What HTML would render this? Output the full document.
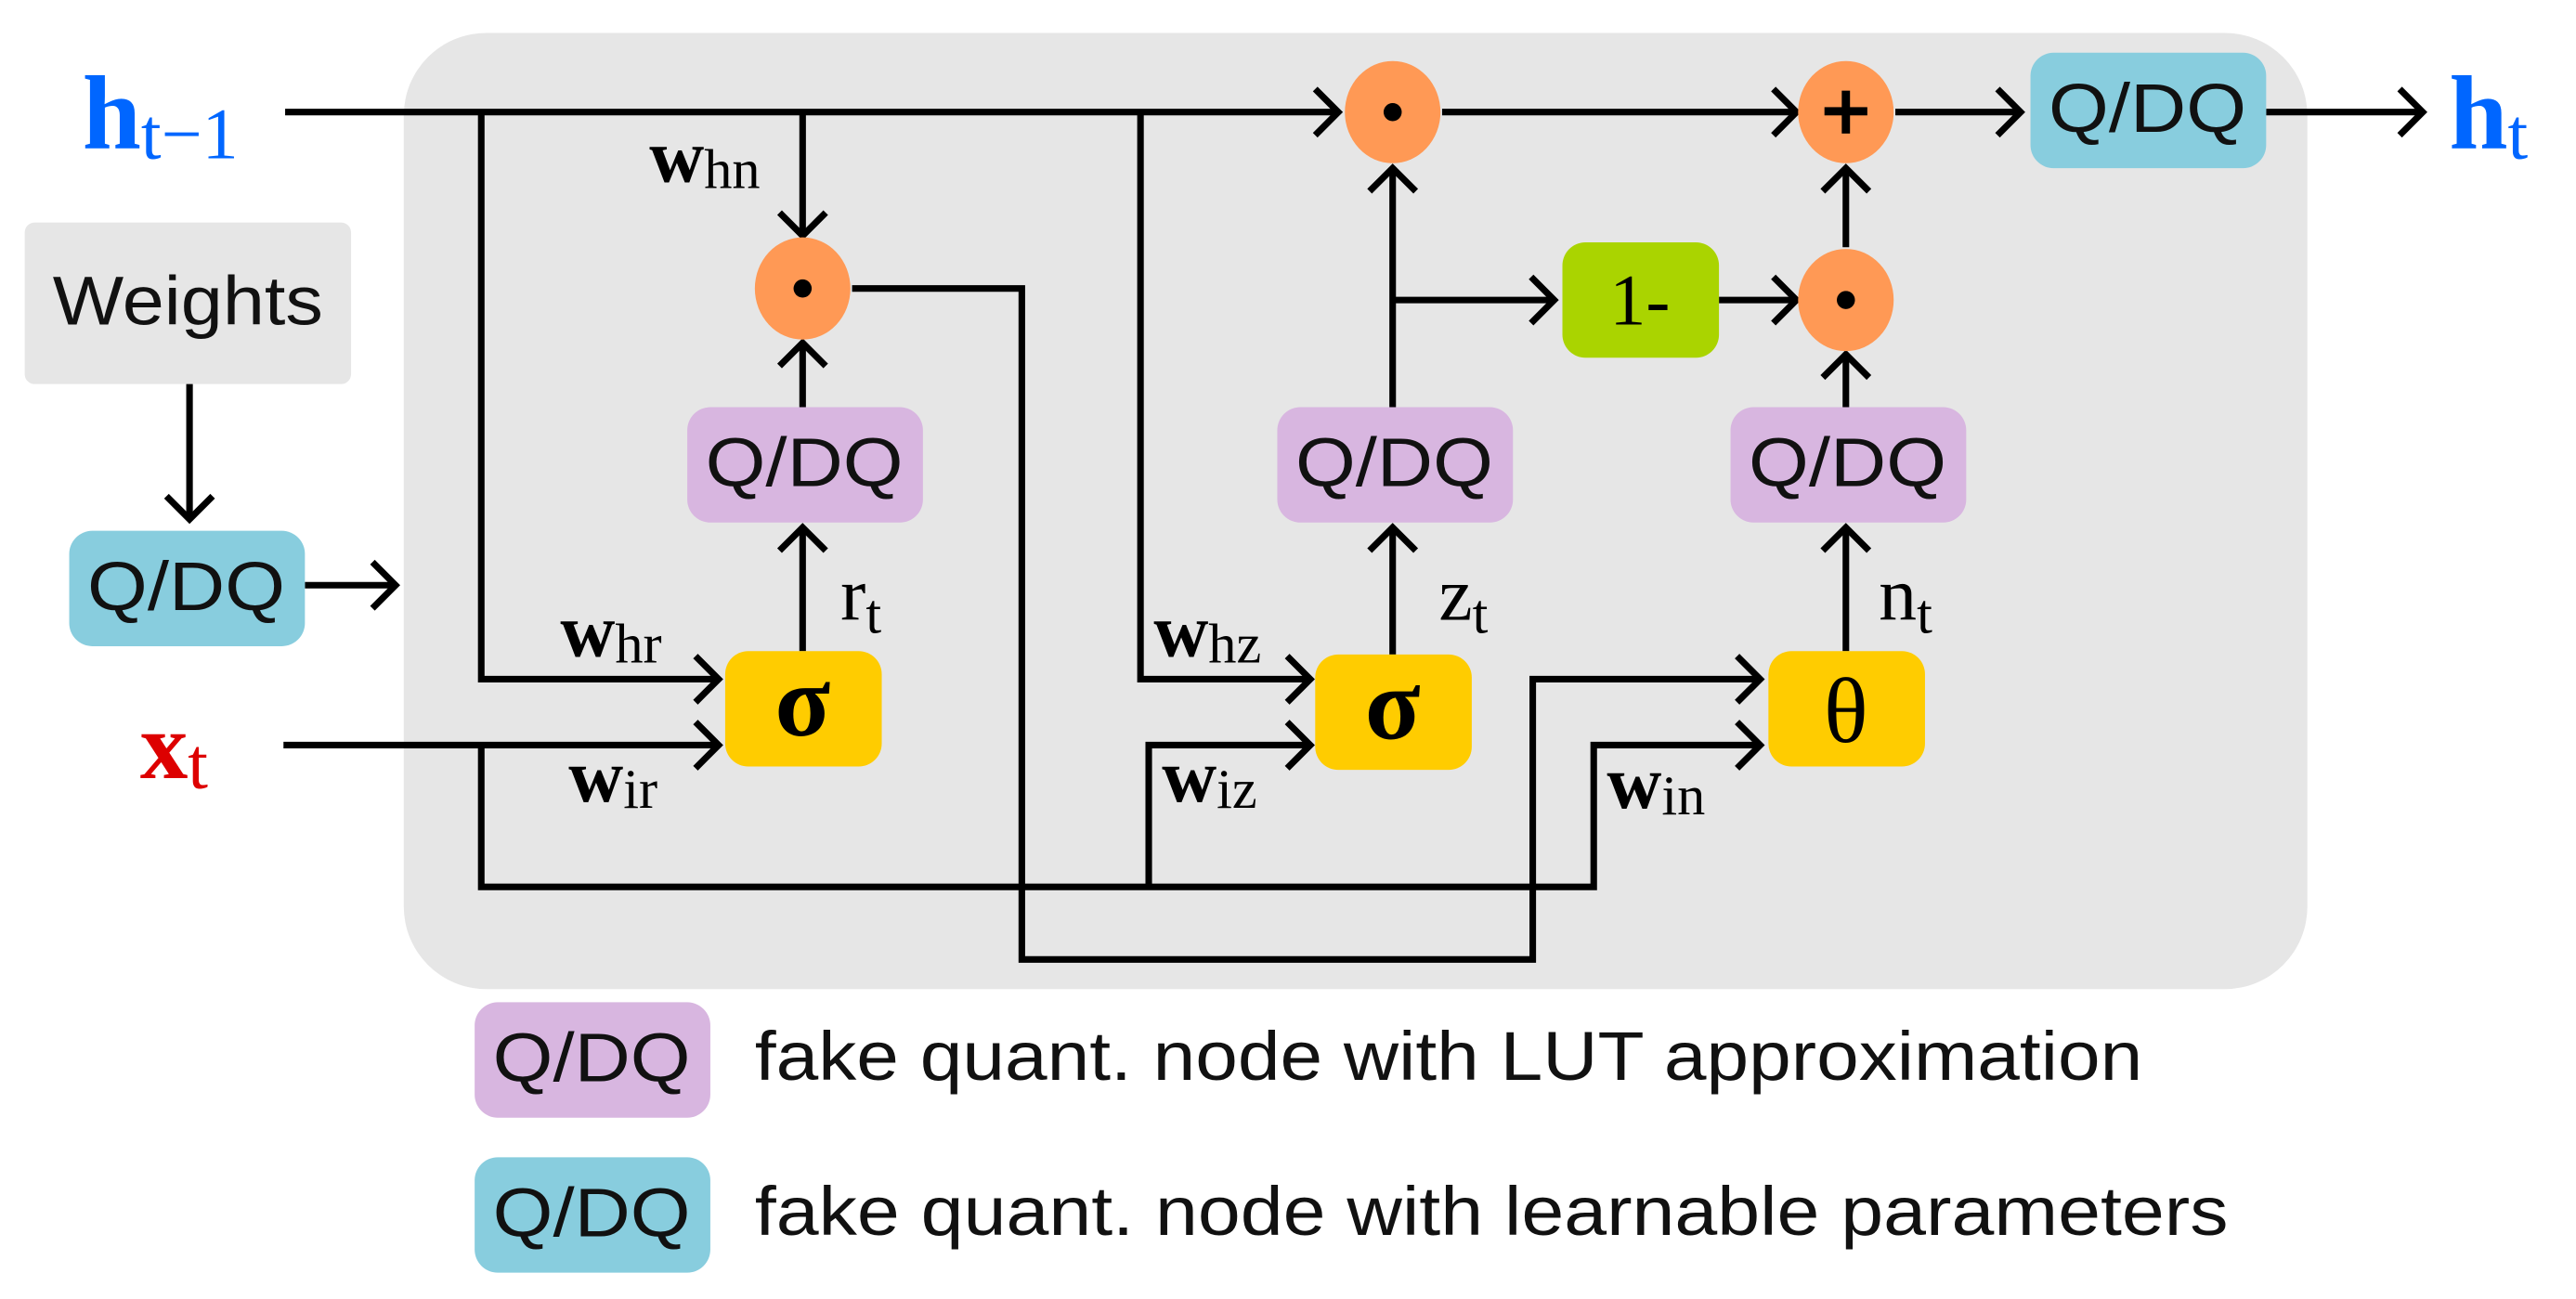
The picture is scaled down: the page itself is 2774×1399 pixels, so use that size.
<!DOCTYPE html>
<html><head><meta charset="utf-8"><style>html,body{margin:0;padding:0;background:#fff}svg{display:block}
.s{font-family:"Liberation Sans",sans-serif;font-size:42px;fill:#111}
.m{font-family:"Liberation Serif",serif}
</style></head><body>
<svg width="2774" height="1399" viewBox="0 0 1563 788" preserveAspectRatio="none" xmlns="http://www.w3.org/2000/svg">
<defs>
<marker id="a" markerUnits="userSpaceOnUse" markerWidth="30" markerHeight="40" refX="16" refY="16" orient="auto">
<path d="M2,2 L16,16 L2,30" fill="none" stroke="#000" stroke-width="4"/>
</marker>
</defs>
<rect x="245" y="20" width="1155" height="580" rx="50" fill="#e6e6e6"/>
<rect x="15" y="135" width="198" height="98" rx="6" fill="#e6e6e6"/>
<text x="114" y="197" class="s" text-anchor="middle" textLength="164" lengthAdjust="spacingAndGlyphs">Weights</text>
<g fill="none" stroke="#000" stroke-width="4">
<path d="M173,68 H812" marker-end="url(#a)"/>
<path d="M875,68 H1090" marker-end="url(#a)"/>
<path d="M1150,68 H1226" marker-end="url(#a)"/>
<path d="M1375,68 H1470" marker-end="url(#a)"/>
<path d="M292,68 V412 H436" marker-end="url(#a)"/>
<path d="M487,68 V143" marker-end="url(#a)"/>
<path d="M692,68 V412 H795" marker-end="url(#a)"/>
<path d="M115,233 V315" marker-end="url(#a)"/>
<path d="M185,355 H240" marker-end="url(#a)"/>
<path d="M172,452 H436" marker-end="url(#a)"/>
<path d="M292,452 V538 H967 V452 H1068" marker-end="url(#a)"/>
<path d="M697,538 V452 H795" marker-end="url(#a)"/>
<path d="M517,175 H620 V582 H930 V412 H1068" marker-end="url(#a)"/>
<path d="M487,395 V320" marker-end="url(#a)"/>
<path d="M487,247 V208" marker-end="url(#a)"/>
<path d="M845,397 V320" marker-end="url(#a)"/>
<path d="M845,247 V102" marker-end="url(#a)"/>
<path d="M845,182 H943" marker-end="url(#a)"/>
<path d="M1043,182 H1090" marker-end="url(#a)"/>
<path d="M1120,395 V320" marker-end="url(#a)"/>
<path d="M1120,247 V215" marker-end="url(#a)"/>
<path d="M1120,150 V102" marker-end="url(#a)"/>
</g>
<g fill="#ff9955">
<ellipse cx="487" cy="175" rx="29" ry="31"/>
<ellipse cx="845" cy="68" rx="29" ry="31"/>
<ellipse cx="1120" cy="68" rx="29" ry="31"/>
<ellipse cx="1120" cy="182" rx="29" ry="31"/>
</g>
<g fill="#000">
<circle cx="487" cy="175" r="5.5"/><circle cx="845" cy="68" r="5.5"/><circle cx="1120" cy="182" r="5.5"/>
<rect x="1107" y="65" width="26" height="5"/><rect x="1117.5" y="55" width="5" height="26"/>
</g>
<rect x="42" y="322" width="143" height="70" rx="14" fill="#88cdde"/>
<rect x="1232" y="32" width="143" height="70" rx="14" fill="#88cdde"/>
<rect x="417" y="247" width="143" height="70" rx="14" fill="#d8b6e0"/>
<rect x="775" y="247" width="143" height="70" rx="14" fill="#d8b6e0"/>
<rect x="1050" y="247" width="143" height="70" rx="14" fill="#d8b6e0"/>
<rect x="948" y="147" width="95" height="70" rx="14" fill="#aad400"/>
<rect x="440" y="395" width="95" height="70" rx="14" fill="#ffcc00"/>
<rect x="798" y="397" width="95" height="70" rx="14" fill="#ffcc00"/>
<rect x="1073" y="395" width="95" height="70" rx="14" fill="#ffcc00"/>
<rect x="288" y="608" width="143" height="70" rx="14" fill="#d8b6e0"/>
<rect x="288" y="702" width="143" height="70" rx="14" fill="#88cdde"/>
<g class="s" text-anchor="middle">
<text x="113" y="370" textLength="120" lengthAdjust="spacingAndGlyphs">Q/DQ</text>
<text x="1303" y="80" textLength="120" lengthAdjust="spacingAndGlyphs">Q/DQ</text>
<text x="488" y="295" textLength="120" lengthAdjust="spacingAndGlyphs">Q/DQ</text>
<text x="846" y="295" textLength="120" lengthAdjust="spacingAndGlyphs">Q/DQ</text>
<text x="1121" y="295" textLength="120" lengthAdjust="spacingAndGlyphs">Q/DQ</text>
<text x="359" y="656" textLength="120" lengthAdjust="spacingAndGlyphs">Q/DQ</text>
<text x="359" y="750" textLength="120" lengthAdjust="spacingAndGlyphs">Q/DQ</text>
</g>
<text x="458" y="655" class="s" textLength="842" lengthAdjust="spacingAndGlyphs">fake quant. node with LUT approximation</text>
<text x="458" y="749" class="s" textLength="894" lengthAdjust="spacingAndGlyphs">fake quant. node with learnable parameters</text>
<g class="m" text-anchor="middle">
<text x="995" y="197" font-size="44">1-</text>
<text x="487" y="446" font-size="62" font-weight="bold">σ</text>
<text x="845" y="448" font-size="62" font-weight="bold">σ</text>
<text x="1120" y="450" font-size="56">θ</text>
</g>
<g class="m">
<text x="50" y="90" font-size="64" font-weight="bold" fill="#0066ff">h<tspan font-size="44" font-weight="normal" dy="6">t−1</tspan></text>
<text x="1486" y="90" font-size="64" font-weight="bold" fill="#0066ff">h<tspan font-size="44" font-weight="normal" dy="6">t</tspan></text>
<text x="85" y="472" font-size="58" font-weight="bold" fill="#dd0000">x<tspan font-size="44" font-weight="normal" dy="6">t</tspan></text>
<g font-size="46">
<text x="394" y="110" font-weight="bold">w<tspan font-size="34" font-weight="normal" dy="4">hn</tspan></text>
<text x="340" y="398" font-weight="bold">w<tspan font-size="34" font-weight="normal" dy="4">hr</tspan></text>
<text x="345" y="486" font-weight="bold">w<tspan font-size="34" font-weight="normal" dy="4">ir</tspan></text>
<text x="700" y="398" font-weight="bold">w<tspan font-size="34" font-weight="normal" dy="4">hz</tspan></text>
<text x="705" y="486" font-weight="bold">w<tspan font-size="34" font-weight="normal" dy="4">iz</tspan></text>
<text x="975" y="490" font-weight="bold">w<tspan font-size="34" font-weight="normal" dy="4">in</tspan></text>
<text x="510" y="376">r<tspan font-size="34" dy="8">t</tspan></text>
<text x="873" y="376">z<tspan font-size="34" dy="8">t</tspan></text>
<text x="1140" y="376">n<tspan font-size="34" dy="8">t</tspan></text>
</g>
</g>
</svg>
</body></html>
